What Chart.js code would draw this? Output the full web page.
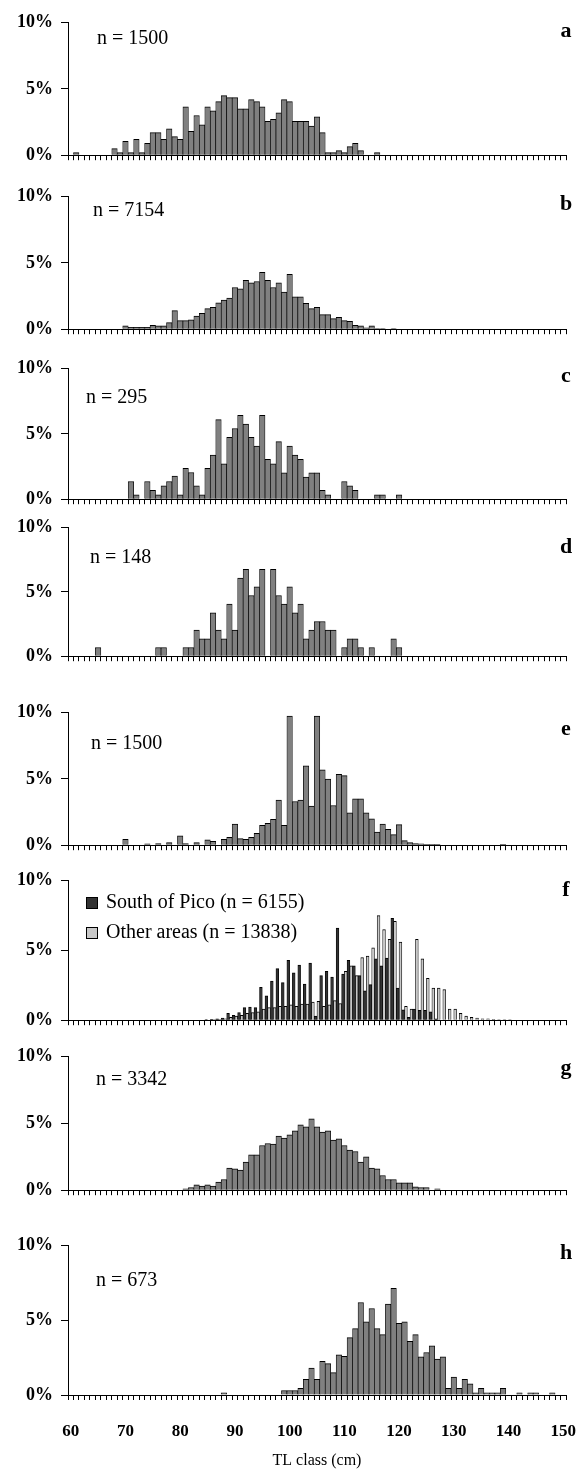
<!DOCTYPE html>
<html>
<head>
<meta charset="utf-8">
<title>TL class distributions</title>
<script src="https://cdn.jsdelivr.net/npm/chart.js@4.4.1/dist/chart.umd.min.js"></script>
<style>
  html, body { margin: 0; padding: 0; background: #fff; }
  #wrap { position: relative; width: 584px; height: 1470px; overflow: hidden; }
  #wrap canvas { position: absolute; left: 0; }
</style>
</head>
<body>
<div id="wrap"></div>
<script>
// TL classes, one per cm, 60..150
const tlClasses = [];
for (let k = 60; k <= 150; k++) tlClasses.push(k);

// Share of fish per class (%), one row per 10 cm
const shareA = [
  0, 0.2, 0, 0, 0, 0, 0, 0, 0.5, 0.2,                    // 60
  1.05, 0.2, 1.2, 0.2, 0.9, 1.7, 1.7, 1.2, 2.0, 1.4,      // 70
  1.2, 3.65, 1.8, 3.0, 2.3, 3.65, 3.35, 4.05, 4.5, 4.35,  // 80
  4.35, 3.5, 3.5, 4.2, 4.05, 3.65, 2.55, 2.7, 3.2, 4.2,   // 90
  4.05, 2.55, 2.55, 2.55, 2.2, 2.9, 1.7, 0.2, 0.2, 0.35,  // 100
  0.2, 0.65, 0.9, 0.35, 0, 0, 0.2, 0, 0, 0,              // 110
  0, 0, 0, 0, 0, 0, 0, 0, 0, 0,                          // 120
  0, 0, 0, 0, 0, 0, 0, 0, 0, 0,                          // 130
  0, 0, 0, 0, 0, 0, 0, 0, 0, 0,                          // 140
  0                                                      // 150
];
const shareB = [
  0, 0, 0, 0, 0, 0, 0, 0, 0, 0,
  0.25, 0.15, 0.15, 0.15, 0.15, 0.3, 0.25, 0.25, 0.5, 1.4,
  0.65, 0.65, 0.7, 1.0, 1.2, 1.55, 1.65, 2.0, 2.2, 2.35,
  3.15, 3.05, 3.7, 3.5, 3.6, 4.3, 3.7, 3.15, 3.5, 2.8,
  4.15, 2.45, 2.45, 1.95, 1.55, 1.65, 1.1, 1.1, 0.8, 0.9,
  0.65, 0.6, 0.3, 0.25, 0.1, 0.25, 0.05, 0.05, 0, 0.05,
  0, 0, 0, 0, 0, 0, 0, 0, 0, 0,
  0, 0, 0, 0, 0, 0, 0, 0, 0, 0,
  0, 0, 0, 0, 0, 0, 0, 0, 0, 0,
  0
];
const shareC = [
  0, 0, 0, 0, 0, 0, 0, 0, 0, 0,
  0, 1.36, 0.34, 0, 1.36, 0.68, 0.34, 1.02, 1.36, 1.78,
  0.34, 2.37, 2.05, 1.02, 0.34, 2.37, 3.39, 6.1, 2.71, 4.75,
  5.42, 6.44, 5.76, 4.75, 4.07, 6.44, 3.05, 2.71, 4.41, 2.03,
  4.07, 3.39, 3.05, 1.7, 2.03, 2.03, 0.68, 0.34, 0, 0,
  1.36, 1.02, 0.68, 0, 0, 0, 0.34, 0.34, 0, 0,
  0.34, 0, 0, 0, 0, 0, 0, 0, 0, 0,
  0, 0, 0, 0, 0, 0, 0, 0, 0, 0,
  0, 0, 0, 0, 0, 0, 0, 0, 0, 0,
  0
];
const shareD = [
  0, 0, 0, 0, 0, 0.68, 0, 0, 0, 0,
  0, 0, 0, 0, 0, 0, 0.68, 0.68, 0, 0,
  0, 0.68, 0.68, 2.03, 1.35, 1.35, 3.38, 2.03, 1.35, 4.05,
  2.03, 6.08, 6.76, 4.73, 5.41, 6.76, 0, 6.76, 4.73, 4.05,
  5.41, 3.38, 4.05, 1.35, 2.03, 2.7, 2.7, 2.03, 2.03, 0,
  0.68, 1.35, 1.35, 0.68, 0, 0.68, 0, 0, 0, 1.35,
  0.68, 0, 0, 0, 0, 0, 0, 0, 0, 0,
  0, 0, 0, 0, 0, 0, 0, 0, 0, 0,
  0, 0, 0, 0, 0, 0, 0, 0, 0, 0,
  0
];
const shareE = [
  0, 0, 0, 0, 0, 0, 0, 0, 0, 0,
  0.45, 0, 0, 0, 0.1, 0, 0.13, 0, 0.2, 0,
  0.7, 0.13, 0, 0.2, 0, 0.4, 0.3, 0, 0.45, 0.6,
  1.6, 0.5, 0.45, 0.6, 0.9, 1.5, 1.65, 1.95, 3.4, 1.5,
  9.75, 3.3, 3.4, 6.0, 2.95, 9.75, 5.7, 5.0, 3.0, 5.35,
  5.25, 2.45, 3.5, 3.5, 2.45, 2.0, 1.0, 1.6, 1.2, 0.8,
  1.55, 0.35, 0.2, 0.13, 0.1, 0.07, 0.07, 0.07, 0, 0,
  0, 0, 0, 0, 0, 0, 0, 0, 0, 0.07,
  0, 0, 0, 0, 0, 0, 0, 0, 0, 0,
  0
];
// panel f: two areas side by side
const southPico = [
  0, 0, 0, 0, 0, 0, 0, 0, 0, 0,
  0, 0, 0, 0, 0, 0, 0, 0, 0, 0,
  0, 0, 0, 0, 0, 0.05, 0.07, 0.1, 0.15, 0.5,
  0.35, 0.55, 0.9, 0.95, 0.9, 2.35, 1.75, 2.8, 3.7, 2.7,
  4.3, 3.4, 3.95, 2.6, 4.1, 0.3, 3.2, 3.5, 3.1, 6.6,
  3.3, 4.3, 3.9, 3.2, 2.1, 2.55, 4.4, 3.9, 4.45, 7.3,
  2.3, 0.75, 0.2, 0.8, 0.7, 0.7, 0.6, 0.1, 0, 0,
  0, 0, 0, 0, 0, 0, 0, 0, 0, 0,
  0, 0, 0, 0, 0, 0, 0, 0, 0, 0,
  0
];
const otherAreas = [
  0, 0, 0, 0, 0, 0, 0, 0, 0, 0,
  0, 0, 0, 0, 0, 0, 0, 0, 0, 0,
  0, 0, 0, 0, 0, 0.03, 0.05, 0.07, 0.1, 0.2,
  0.3, 0.35, 0.5, 0.55, 0.6, 0.8, 0.9, 0.9, 1.0, 1.0,
  1.1, 1.0, 1.15, 1.15, 1.3, 1.35, 1.0, 1.1, 1.4, 1.2,
  3.5, 3.9, 3.2, 4.5, 4.6, 5.2, 7.5, 6.5, 5.8, 7.1,
  5.6, 1.0, 0.8, 5.8, 4.4, 3.0, 2.3, 2.3, 2.2, 0.8,
  0.8, 0.5, 0.3, 0.2, 0.15, 0.1, 0.1, 0.07, 0.05, 0.05,
  0.05, 0.03, 0, 0, 0, 0, 0, 0, 0, 0,
  0
];
const shareG = [
  0, 0, 0, 0, 0, 0, 0, 0, 0, 0,
  0, 0, 0, 0, 0, 0, 0, 0, 0, 0,
  0, 0.1, 0.2, 0.4, 0.3, 0.4, 0.3, 0.6, 0.8, 1.65,
  1.6, 1.5, 2.1, 2.65, 2.65, 3.35, 3.5, 3.45, 4.05, 3.9,
  4.15, 4.45, 4.9, 4.75, 5.35, 4.75, 4.35, 4.45, 3.75, 3.85,
  3.35, 3.0, 2.9, 2.1, 2.5, 1.65, 1.6, 1.1, 0.8, 0.8,
  0.55, 0.55, 0.55, 0.25, 0.2, 0.2, 0, 0.1, 0, 0,
  0, 0, 0, 0, 0, 0, 0, 0, 0, 0,
  0, 0, 0, 0, 0, 0, 0, 0, 0, 0,
  0
];
const shareH = [
  0, 0, 0, 0, 0, 0, 0, 0, 0, 0,
  0, 0, 0, 0, 0, 0, 0, 0, 0, 0,
  0, 0, 0, 0, 0, 0, 0, 0, 0.15, 0,
  0, 0, 0, 0, 0, 0, 0, 0, 0, 0.3,
  0.3, 0.3, 0.45, 1.05, 1.8, 1.05, 2.25, 2.1, 1.5, 2.7,
  2.6, 3.85, 4.45, 6.2, 4.9, 5.8, 4.45, 4.05, 6.1, 7.15,
  4.8, 4.9, 3.6, 4.05, 2.55, 2.85, 3.3, 2.4, 2.55, 0.45,
  1.2, 0.45, 1.05, 0.75, 0.15, 0.45, 0.15, 0.15, 0.15, 0.45,
  0, 0, 0.15, 0, 0.15, 0.15, 0, 0, 0.15, 0,
  0
];

const panelLetters = ['a', 'b', 'c', 'd', 'e', 'f', 'g', 'h'];
const sampleNotes = ['n = 1500', 'n = 7154', 'n = 295', 'n = 148', 'n = 1500', null, 'n = 3342', 'n = 673'];
const areaLabels = ['South of Pico (n = 6155)', 'Other areas (n = 13838)'];
const yTicks = [0, 5, 10];

const FONT = '"Liberation Serif", "Times New Roman", serif';
const AXIS_LEFT = 68, AXIS_RIGHT = 566, PAD_TOP = 12, PAGE_H = 1470;

// where each panel's 10% and 0% lines sit on the page
const panelLayout = [
  { y10: 16,   y0: 162,  letterDy: 9,  noteX: 97, noteDy: 16 },
  { y10: 190,  y0: 336,  letterDy: 8,  noteX: 93, noteDy: 14 },
  { y10: 362,  y0: 506,  letterDy: 8,  noteX: 86, noteDy: 29 },
  { y10: 521,  y0: 663,  letterDy: 20, noteX: 90, noteDy: 30 },
  { y10: 706,  y0: 852,  letterDy: 17, noteX: 91, noteDy: 31 },
  { y10: 874,  y0: 1027, letterDy: 10, noteX: 86, noteDy: 22 },
  { y10: 1050, y0: 1197, letterDy: 12, noteX: 96, noteDy: 23 },
  { y10: 1239, y0: 1395, letterDy: 8,  noteX: 96, noteDy: 35 }
];

// panel letter plus sample size (or the little legend in panel f)
const panelText = {
  id: 'panelText',
  afterDraw(chart, args, opts) {
    const { ctx, chartArea } = chart;
    ctx.save();
    ctx.fillStyle = '#000';
    ctx.textBaseline = 'middle';
    ctx.textAlign = 'center';
    ctx.font = 'bold 22px ' + FONT;
    ctx.fillText(opts.letter, chartArea.right, chartArea.top + opts.letterDy);
    ctx.textAlign = 'left';
    ctx.font = '20px ' + FONT;
    if (opts.note) {
      ctx.fillText(opts.note, opts.noteX, chartArea.top + opts.noteDy);
    } else {
      chart.data.datasets.forEach((ds, i) => {
        const y = Math.round(chartArea.top + opts.noteDy + i * 30);
        ctx.fillStyle = ds.backgroundColor;
        ctx.fillRect(opts.noteX, y - 6, 12, 12);
        ctx.strokeStyle = '#000';
        ctx.lineWidth = 1;
        ctx.strokeRect(opts.noteX + 0.5, y - 5.5, 11, 11);
        ctx.fillStyle = '#000';
        ctx.fillText(ds.label, opts.noteX + 20, y);
      });
    }
    ctx.restore();
  }
};

function barSet(values, color, label) {
  return {
    label: label,
    data: values.map(v => (v > 0 ? v : null)),
    backgroundColor: color,
    borderColor: '#000',
    borderWidth: { top: 1, left: 0.7, right: 0.7, bottom: 0 },
    barPercentage: 1,
    categoryPercentage: 1
  };
}

function addPanel(idx, datasets) {
  const L = panelLayout[idx];
  const last = idx === panelLayout.length - 1;
  const bottomExtra = last ? PAGE_H - L.y0 : 12;
  const top = L.y10 - PAD_TOP;
  const height = L.y0 - top + bottomExtra;

  const canvas = document.createElement('canvas');
  canvas.width = 584;
  canvas.height = height;
  canvas.style.top = top + 'px';
  document.getElementById('wrap').appendChild(canvas);

  return new Chart(canvas, {
    type: 'bar',
    data: { labels: tlClasses, datasets: datasets },
    plugins: [panelText],
    options: {
      responsive: false,
      animation: false,
      devicePixelRatio: 1,
      layout: { padding: { top: PAD_TOP, right: 584 - AXIS_RIGHT, left: 0, bottom: 0 } },
      plugins: {
        legend: { display: false },
        tooltip: { enabled: false },
        panelText: { letter: panelLetters[idx], note: sampleNotes[idx], noteX: L.noteX, noteDy: L.noteDy, letterDy: L.letterDy }
      },
      scales: {
        x: {
          type: 'category',
          offset: true,
          grid: { offset: true, drawOnChartArea: false, tickLength: 5, color: '#000', lineWidth: 1 },
          border: { display: true, color: '#000', width: 1 },
          ticks: {
            display: last,
            autoSkip: false,
            maxRotation: 0,
            padding: 21,
            color: '#000',
            font: { family: FONT, size: 17, weight: 'bold' },
            callback: (v, i) => (tlClasses[i] % 10 === 0 ? String(tlClasses[i]) : '')
          },
          title: {
            display: last,
            text: 'TL class (cm)',
            color: '#000',
            padding: { top: 2, bottom: 0 },
            font: { family: FONT, size: 16, weight: 'normal' }
          },
          // keep every panel's plot area on the same x span
          afterFit: s => { s.height = bottomExtra; s.paddingLeft = 0; s.paddingRight = 0; }
        },
        y: {
          min: 0,
          max: 10,
          afterBuildTicks: s => { s.ticks = yTicks.map(v => ({ value: v })); },
          ticks: {
            padding: 8,
            color: '#000',
            font: { family: FONT, size: 18, weight: 'bold' },
            callback: v => v + '%'
          },
          grid: { drawOnChartArea: false, tickLength: 7, color: '#000' },
          border: { display: true, color: '#000', width: 1 },
          afterFit: s => { s.width = AXIS_LEFT; }
        }
      }
    }
  });
}

const GRAY = '#808080';
addPanel(0, [barSet(shareA, GRAY)]);
addPanel(1, [barSet(shareB, GRAY)]);
addPanel(2, [barSet(shareC, GRAY)]);
addPanel(3, [barSet(shareD, GRAY)]);
addPanel(4, [barSet(shareE, GRAY)]);
addPanel(5, [barSet(southPico, '#333333', areaLabels[0]), barSet(otherAreas, '#c8c8c8', areaLabels[1])]);
addPanel(6, [barSet(shareG, GRAY)]);
addPanel(7, [barSet(shareH, GRAY)]);
</script>
</body>
</html>
